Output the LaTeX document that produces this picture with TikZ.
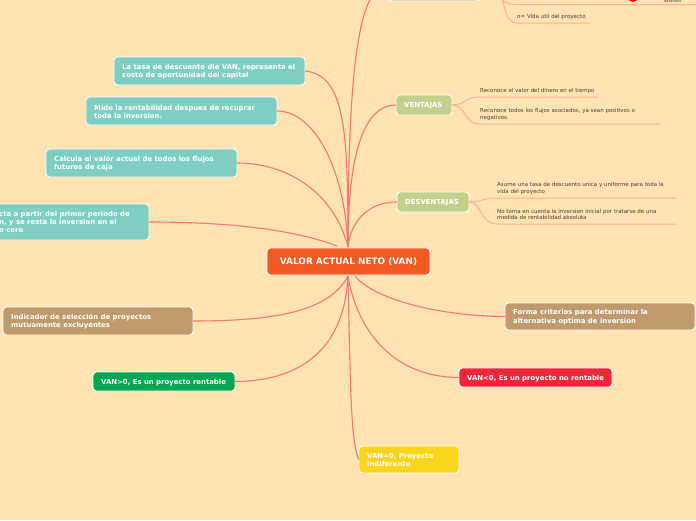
\documentclass[tikz,border=0pt]{standalone}
\usepackage{fontspec}
\setmainfont{DejaVu Sans}
\definecolor{bgc}{HTML}{FFE3B3}
\definecolor{teal}{HTML}{7FCEC2}
\definecolor{olivec}{HTML}{C3D08B}
\definecolor{brownc}{HTML}{BE9A6C}
\definecolor{hubc}{HTML}{F15A24}
\definecolor{greenc}{HTML}{00A651}
\definecolor{redc}{HTML}{ED2939}
\definecolor{yelc}{HTML}{FBD51B}
\definecolor{linec}{HTML}{F9776F}
\definecolor{sublinec}{HTML}{FFB097}
\definecolor{txtc}{HTML}{4A4036}
\tikzset{
 x=1pt,y=-1pt,
 topic/.style={draw=white,line width=0.9pt,rounded corners=3.5pt},
 topictext/.style={text=white,font=\fontsize{6.9}{8.4}\selectfont\bfseries,align=left,anchor=west,inner sep=0pt},
 branch/.style={linec,line width=1.1pt},
 sub/.style={sublinec,line width=1pt},
 note/.style={text=txtc,font=\fontsize{5.5}{6.8}\selectfont,align=left,anchor=west,inner sep=0pt},
}
\newcommand{\topicbox}[7]{% name, x1,y1,x2,y2, colour, text
 \path[topic,fill=#6] (#2,#3) rectangle (#4,#5);
 \node[topictext] (#1) at ({#2+8},{(#3+#5)/2+0.7}) {#7};
 \coordinate (#1L) at (#2,{(#3+#5)/2});
 \coordinate (#1R) at (#4,{(#3+#5)/2});
}
\begin{document}
\begin{tikzpicture}
\useasboundingbox (0,0) rectangle (696,520);
\clip (0,0) rectangle (696,520);
\fill[bgc] (0,0) rectangle (696,520);
\coordinate (hubN) at (348,247);
\coordinate (hubS) at (348,276);
% boxes
\path[topic,fill=olivec] (388,-30) rectangle (480,1);
\coordinate (topL) at (388,-15);
\topicbox{a}{114}{57}{305}{85}{teal}{La tasa de descuento die VAN, representa el\\costo de oportunidad del capital}
\topicbox{b}{86}{97}{277}{125}{teal}{Mide la rentabilidad despues de recuprar\\toda la inversion.}
\topicbox{c}{46}{149}{237}{177}{teal}{Calcula el valor actual de todos los flujos\\futuros de caja}
\path[topic,fill=teal] (-12,204) rectangle (149,240);
\coordinate (dR) at (149,222);
\node[topictext] (d) at (-1,222) {cta a partir del primer periodo de\\n, y se resta la inversion en el\\o cero};
\topicbox{v}{396}{95}{452}{115}{olivec}{VENTAJAS}
\topicbox{w}{397}{192}{469}{212}{olivec}{DESVENTAJAS}
\topicbox{e}{3}{307}{193}{335}{brownc}{Indicador de selección de proyectos\\mutuamente excluyentes}
\topicbox{f}{93}{372}{235}{391}{greenc}{VAN>0, Es un proyecto rentable}
\topicbox{g}{505}{303}{695}{330}{brownc}{Forma criterios para determinar la\\alternativa optima de inversion}
\topicbox{h}{459}{368}{612}{387}{redc}{VAN<0, Es un proyecto no rentable}
\topicbox{i}{359}{446}{459}{473}{yelc}{VAN=0, Proyecto\\indiferente}
\path[topic,fill=hubc] (267,248) rectangle (430,275);
\node[text=white,font=\fontsize{8.9}{10}\selectfont\bfseries,inner sep=0pt] (hub) at (348.5,261.5) {VALOR ACTUAL NETO (VAN)};
% main connectors
\draw[branch] (hubN) .. controls (348,60) and (360,-15) .. (topL);
\draw[branch] (hubN) .. controls (348,150) and (365,105) .. (vL);
\draw[branch] (hubN) .. controls (350,225) and (365,202) .. (wL);
\draw[branch] (hubN) .. controls (348,130) and (345,75) .. (aR);
\draw[branch] (hubN) .. controls (345,170) and (315,111) .. (bR);
\draw[branch] (hubN) .. controls (335,195) and (290,163) .. (cR);
\draw[branch] (337,246) .. controls (290,228) and (220,222) .. (dR);
\draw[branch] (hubS) .. controls (330,310) and (280,321) .. (eR);
\draw[branch] (hubS) .. controls (345,340) and (310,381) .. (fR);
\draw[branch] (355,276) .. controls (375,300) and (440,316) .. (gL);
\draw[branch] (hubS) .. controls (355,320) and (385,377) .. (hL);
\draw[branch] (hubS) .. controls (350,360) and (350,445) .. (iL);
% sub connectors
\coordinate (s1) at (590,23);
\coordinate (s2) at (696,4.5);
\draw[sub] (501,-4) .. controls (505,5) and (505,23) .. (517,23) -- (s1);
\draw[sub] (498,-8) .. controls (503,0) and (503,4.5) .. (517,4.5) -- (s2);
\fill[red] (633,-3) circle (5);
\node[note,font=\fontsize{3.5}{4}\selectfont] (t0) at (664,1.6) {desarrollo};
\node[note] (t1) at (517,17) {n= Vida util del proyecto};
\coordinate (s3) at (598,97);
\coordinate (s4) at (660,124);
\coordinate (s5) at (676,198);
\coordinate (s6) at (676,224);
\draw[sub] (vR) .. controls (466,105) and (464,97) .. (480,97) -- (s3);
\draw[sub] (vR) .. controls (466,105) and (464,124) .. (480,124) -- (s4);
\draw[sub] (wR) .. controls (482,202) and (482,198) .. (497,198) -- (s5);
\draw[sub] (wR) .. controls (482,202) and (480,224) .. (497,224) -- (s6);
\node[note] (t2) at (480,91) {Reconoce el valor del dinero en el tiempo};
\node[note] (t3) at (480,114.5) {Reconoce todos los flujos asociados, ya sean positivos o\\negativos.};
\node[note] (t4) at (497,188.5) {Asume una tasa de descuento unica y uniforme para toda la\\vida del proyecto};
\node[note] (t5) at (497,214.5) {No toma en cuenta la inversion inicial por tratarse de una\\medida de rentabilidad absoluta};
\end{tikzpicture}
\end{document}
